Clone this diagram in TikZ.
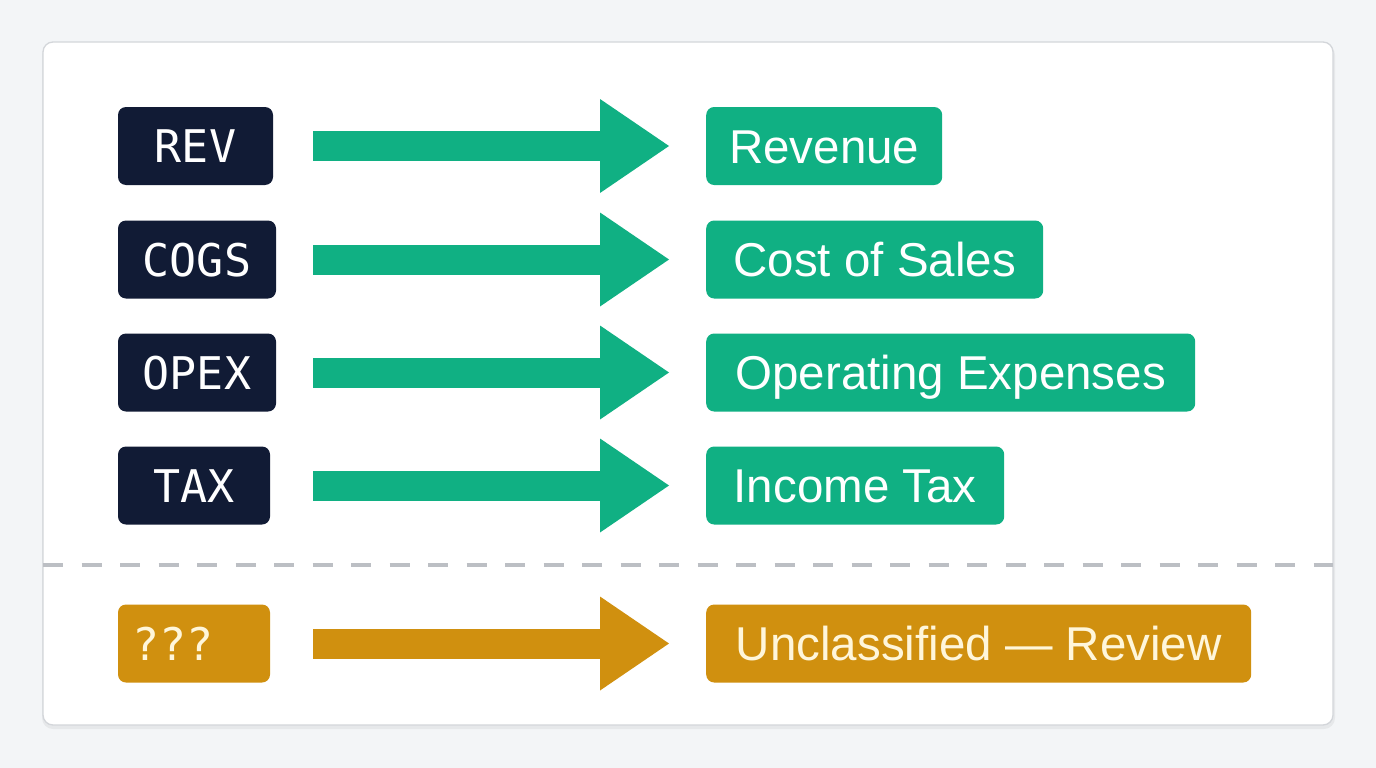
\documentclass[tikz,border=0pt]{standalone}
\usepackage{fontspec}
\setmainfont{Liberation Sans}
\newfontfamily\monof{DejaVu Sans Mono}
\usetikzlibrary{arrows.meta}
\definecolor{bgc}{HTML}{F3F5F7}
\definecolor{cardline}{HTML}{D3D6DA}
\definecolor{navy}{HTML}{111B35}
\definecolor{mint}{HTML}{10B083}
\definecolor{amber}{HTML}{D0900F}
\definecolor{dashgray}{HTML}{BCBFC4}
\definecolor{cream}{HTML}{FFF6DA}
\begin{document}
\begin{tikzpicture}[x=1pt,y=-1pt,
  lbox/.style={fill=navy, text=white, rounded corners=8pt, minimum height=78pt,
    inner ysep=0pt, font=\monof\fontsize{45}{54}\selectfont, text height=33pt, text depth=0pt},
  rbox/.style={fill=mint, text=white, rounded corners=8pt, anchor=west, minimum height=78pt,
    inner ysep=0pt, inner xsep=0pt, font=\fontsize{47.5}{57}\selectfont,
    text height=34pt, text depth=0pt},
  flow/.style={line width=30pt, mint, -{Triangle[length=69pt,width=94pt,line width=0pt]}},
  warn/.style={fill=amber, text=cream}
]
\useasboundingbox (0,0) rectangle (1376,768);
\fill[bgc] (0,0) rectangle (1376,768);
\fill[black, opacity=0.05, rounded corners=11pt] (42,44) rectangle (1335,729);
\draw[cardline, fill=white, line width=1.3pt, rounded corners=10pt] (43,42) rectangle (1333,725);

% left codes
\node[lbox, minimum width=155pt] (rev) at (195.5,146) {REV};
\node[lbox, minimum width=158pt] (cogs) at (197,259.5) {COGS};
\node[lbox, minimum width=158pt] (opex) at (197,372.5) {OPEX};
\node[lbox, minimum width=152pt] (tax) at (194,485.5) {TAX};
\node[lbox, warn, text width=124pt, inner xsep=14pt, align=left] (unk) at (194,643.5) {???};

% right categories
\node[rbox, minimum width=236pt] (revenue) at (706,146) {Revenue};
\node[rbox, minimum width=337pt] (cost) at (706,259.5) {Cost of Sales};
\node[rbox, minimum width=489pt] (operating) at (706,372.5) {Operating Expenses};
\node[rbox, minimum width=298pt] (income) at (706,485.5) {Income Tax};
\node[rbox, warn, minimum width=545pt] (unclass) at (706,643.5) {Unclassified — Review};

% arrows
\coordinate (as) at (313,0);
\coordinate (ae) at (669,0);
\draw[flow] (as |- rev.center) -- (ae |- revenue.west);
\draw[flow] (as |- cogs.center) -- (ae |- cost.west);
\draw[flow] (as |- opex.center) -- (ae |- operating.west);
\draw[flow] (as |- tax.center) -- (ae |- income.west);
\draw[flow, amber] (as |- unk.center) -- (ae |- unclass.west);

% separator
\coordinate (dl) at (43,565);
\coordinate (dr) at (1333,565);
\draw[dashgray, line width=4.5pt, dash pattern=on 20pt off 18.5pt] (dl) -- (dr);
\end{tikzpicture}
\end{document}
